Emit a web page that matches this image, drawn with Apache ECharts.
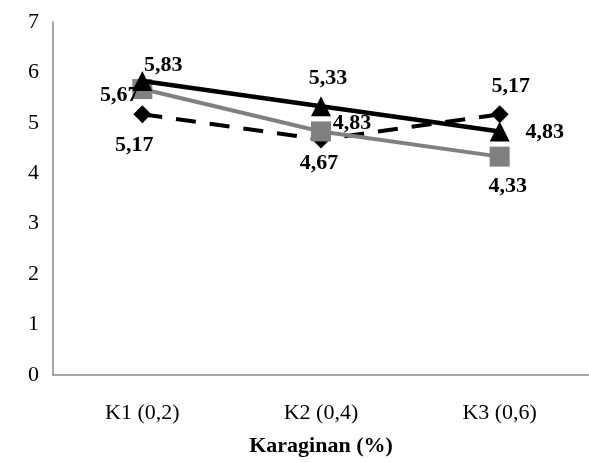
<!DOCTYPE html>
<html>
<head>
<meta charset="utf-8">
<script src="https://cdn.jsdelivr.net/npm/echarts@6/dist/echarts.min.js"></script>
<style>html,body{margin:0;padding:0;background:#fff;}#c{width:589px;height:462px;}</style>
</head>
<body>
<div id="c"></div>
<script>
var categories = ['K1 (0,2)', 'K2 (0,4)', 'K3 (0,6)'];
var seriesTriangle = [5.83, 5.33, 4.83];
var seriesSquare = [5.67, 4.83, 4.33];
var seriesDiamond = [5.17, 4.67, 5.17];
var yTicks = [0, 1, 2, 3, 4, 5, 6, 7];
var xAxisTitle = 'Karaginan (%)';

// label offsets (style only)
var offTriangle = [[21, -16], [7, -28], [45, 1]];
var offSquare = [[-23, 6], [31, -8], [8, 30]];
var offDiamond = [[-8, 31], [-2, 24], [11, -28]];

function fmt(v) { return v.toFixed(2).replace('.', ','); }
function build(vals, offs) {
  return vals.map(function (v, i) {
    return { value: v, label: { offset: offs[i] } };
  });
}
var labelBase = {
  show: true,
  position: 'inside',
  fontFamily: 'Liberation Serif',
  fontWeight: 'bold',
  fontSize: 22,
  color: '#000',
  formatter: function (p) { return fmt(p.value); }
};

var chart = echarts.init(document.getElementById('c'), null, { renderer: 'canvas' });
chart.setOption({
  animation: false,
  backgroundColor: '#fff',
  grid: { left: 53, top: 22, width: 543, height: 359, containLabel: false },
  xAxis: {
    type: 'category',
    data: categories,
    boundaryGap: true,
    axisLine: { lineStyle: { color: '#8a8a8a', width: 1.5 } },
    axisTick: { show: false },
    axisLabel: { fontFamily: 'Liberation Serif', fontSize: 22, color: '#000', margin: 27 },
    name: xAxisTitle,
    nameLocation: 'middle',
    nameGap: 60,
    nameTextStyle: { fontFamily: 'Liberation Serif', fontWeight: 'bold', fontSize: 22, color: '#000' },
    splitLine: { show: false }
  },
  yAxis: {
    type: 'value',
    min: yTicks[0],
    max: yTicks[yTicks.length - 1],
    interval: 1,
    axisLine: { show: true, lineStyle: { color: '#8a8a8a', width: 1.5 } },
    axisTick: { show: false },
    axisLabel: { fontFamily: 'Liberation Serif', fontSize: 22, color: '#000', margin: 14 },
    splitLine: { show: false }
  },
  series: [
    {
      name: 'Diamond',
      type: 'line',
      data: build(seriesDiamond, offDiamond),
      symbol: 'diamond',
      symbolSize: 18,
      itemStyle: { color: '#000' },
      lineStyle: { color: '#000', width: 4, type: [20, 14] },
      label: labelBase,
      z: 2
    },
    {
      name: 'Square',
      type: 'line',
      data: build(seriesSquare, offSquare),
      symbol: 'rect',
      symbolSize: 20,
      itemStyle: { color: '#808080' },
      lineStyle: { color: '#808080', width: 4 },
      label: labelBase,
      z: 3
    },
    {
      name: 'Triangle',
      type: 'line',
      data: build(seriesTriangle, offTriangle),
      symbol: 'triangle',
      symbolSize: 20,
      itemStyle: { color: '#000' },
      lineStyle: { color: '#000', width: 4.5 },
      label: labelBase,
      z: 4
    }
  ]
});
</script>
</body>
</html>
